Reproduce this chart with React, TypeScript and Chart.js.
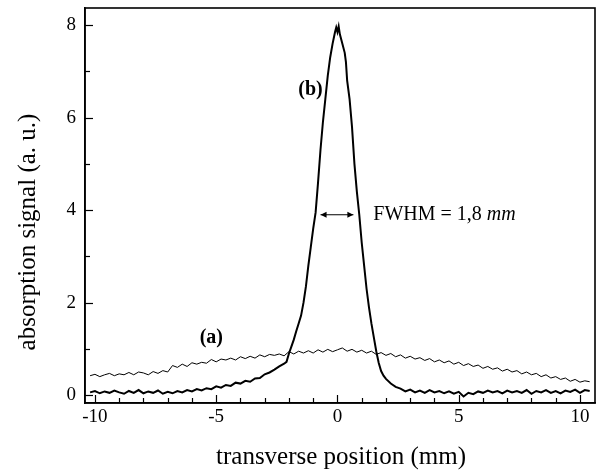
import React, { useEffect, useRef } from "react";
import { Chart, registerables } from "chart.js";

Chart.register(...registerables);

// Curve (a): broad thin trace
const xA = [
  -10.2, -10.0, -9.8, -9.6, -9.4, -9.2, -9.0, -8.8, -8.6, -8.4, -8.2, -8.0, -7.8, -7.6, -7.4, -7.2, -7.0,
  -6.8, -6.6, -6.4, -6.2, -6.0, -5.8, -5.6, -5.4, -5.2, -5.0, -4.8, -4.6, -4.4, -4.2, -4.0, -3.8, -3.6,
  -3.4, -3.2, -3.0, -2.8, -2.6, -2.4, -2.2, -2.0, -1.8, -1.6, -1.4, -1.2, -1.0, -0.8, -0.6, -0.4, -0.2,
  0.0, 0.2, 0.4, 0.6, 0.8, 1.0, 1.2, 1.4, 1.6, 1.8, 2.0, 2.2, 2.4, 2.6, 2.8, 3.0, 3.2, 3.4, 3.6, 3.8,
  4.0, 4.2, 4.4, 4.6, 4.8, 5.0, 5.2, 5.4, 5.6, 5.8, 6.0, 6.2, 6.4, 6.6, 6.8, 7.0, 7.2, 7.4, 7.6, 7.8,
  8.0, 8.2, 8.4, 8.6, 8.8, 9.0, 9.2, 9.4, 9.6, 9.8, 10.0, 10.2, 10.4,
];
const yA = [
  0.42, 0.45, 0.40, 0.44, 0.47, 0.42, 0.46, 0.44, 0.49, 0.44, 0.50, 0.48, 0.44, 0.51, 0.47, 0.53, 0.50,
  0.64, 0.60, 0.67, 0.62, 0.70, 0.67, 0.71, 0.69, 0.77, 0.72, 0.78, 0.76, 0.80, 0.76, 0.83, 0.79, 0.84,
  0.80, 0.87, 0.83, 0.88, 0.86, 0.89, 0.85, 0.94, 0.89, 0.95, 0.91, 0.96, 0.91, 0.98, 0.93, 0.99, 0.94,
  0.98, 1.02, 0.95, 0.99, 0.93, 0.97, 0.91, 0.95, 0.88, 0.92, 0.86, 0.90, 0.83, 0.87, 0.80, 0.84, 0.78,
  0.81, 0.75, 0.79, 0.72, 0.76, 0.70, 0.74, 0.67, 0.71, 0.64, 0.68, 0.62, 0.65, 0.58, 0.62, 0.56, 0.59,
  0.52, 0.56, 0.50, 0.53, 0.46, 0.50, 0.44, 0.47, 0.40, 0.44, 0.37, 0.40, 0.34, 0.37, 0.30, 0.34, 0.28,
  0.31, 0.29,
];

// Curve (b): narrow thick peak
const xB = [
  -10.2, -10.0, -9.8, -9.6, -9.4, -9.2, -9.0, -8.8, -8.6, -8.4, -8.2, -8.0, -7.8, -7.6, -7.4, -7.2, -7.0,
  -6.8, -6.6, -6.4, -6.2, -6.0, -5.8, -5.6, -5.4, -5.2, -5.0, -4.8, -4.6, -4.4, -4.2, -4.0, -3.8, -3.6,
  -3.4, -3.2, -3.0, -2.8, -2.6, -2.4, -2.2, -2.1, -2.0, -1.9, -1.8, -1.7, -1.6, -1.5, -1.4, -1.3, -1.2,
  -1.1, -1.0, -0.9, -0.8, -0.7, -0.6, -0.5, -0.4, -0.3, -0.2, -0.1, -0.05, 0.0, 0.05, 0.1, 0.2, 0.3,
  0.35, 0.4, 0.5, 0.6, 0.7, 0.8, 0.9, 1.0, 1.1, 1.2, 1.3, 1.4, 1.5, 1.6, 1.7, 1.8, 1.9, 2.0, 2.2, 2.4,
  2.6, 2.8, 3.0, 3.2, 3.4, 3.6, 3.8, 4.0, 4.2, 4.4, 4.6, 4.8, 5.0, 5.2, 5.4, 5.6, 5.8, 6.0, 6.2, 6.4,
  6.6, 6.8, 7.0, 7.2, 7.4, 7.6, 7.8, 8.0, 8.2, 8.4, 8.6, 8.8, 9.0, 9.2, 9.4, 9.6, 9.8, 10.0, 10.2, 10.4,
];
const yB = [
  0.06, 0.09, 0.04, 0.08, 0.05, 0.10, 0.06, 0.03, 0.09, 0.05, 0.11, 0.04, 0.08, 0.05, 0.10, 0.03, 0.07,
  0.04, 0.09, 0.06, 0.11, 0.08, 0.13, 0.10, 0.15, 0.13, 0.19, 0.16, 0.22, 0.20, 0.27, 0.25, 0.31, 0.29,
  0.36, 0.37, 0.45, 0.49, 0.55, 0.62, 0.68, 0.72, 0.90, 1.05, 1.20, 1.38, 1.55, 1.72, 2.00, 2.35, 2.80,
  3.20, 3.60, 3.95, 4.60, 5.30, 5.90, 6.40, 6.90, 7.30, 7.60, 7.85, 7.95, 7.85, 7.97, 7.80, 7.60, 7.40,
  7.20, 6.80, 6.40, 5.80, 5.00, 4.40, 3.90, 3.30, 2.80, 2.30, 1.90, 1.55, 1.25, 0.95, 0.70, 0.52, 0.42,
  0.35, 0.25, 0.18, 0.14, 0.08, 0.12, 0.06, 0.10, 0.05, 0.11, 0.06, 0.09, 0.04, 0.08, 0.03, 0.07, -0.03,
  0.05, 0.02, 0.08, 0.05, 0.10, 0.06, 0.09, 0.04, 0.10, 0.06, 0.09, 0.05, 0.11, 0.03, 0.09, 0.06, 0.11,
  0.05, 0.09, 0.04, 0.10, 0.07, 0.12, 0.05, 0.11, 0.09,
];

const xTickValues = [-10, -5, 0, 5, 10];
const yTickValues = [0, 2, 4, 6, 8];
const X_MIN = -10.41;
const X_MAX = 10.62;
const Y_MIN = -0.17;
const Y_MAX = 8.37;

const X_TITLE = "transverse position (mm)";
const Y_TITLE = "absorption signal (a. u.)";
const LABEL_A = "(a)";
const LABEL_B = "(b)";
const FWHM_TEXT = "FWHM = 1,8 ";
const FWHM_UNIT = "mm";
const FWHM_LEFT = -0.78;
const FWHM_RIGHT = 0.74;
const FWHM_LEVEL = 3.9;

const SERIF = '"Liberation Serif", "Times New Roman", serif';

const decorPlugin = {
  id: "decor",
  afterDraw(chart: any) {
    const { ctx, chartArea, scales } = chart;
    const xs = scales.x;
    const ys = scales.y;
    ctx.save();
    ctx.strokeStyle = "#000";
    ctx.fillStyle = "#000";
    // frame
    ctx.lineWidth = 1.6;
    ctx.strokeRect(chartArea.left, chartArea.top, chartArea.right - chartArea.left, chartArea.bottom - chartArea.top);
    // inward ticks
    ctx.lineWidth = 1.2;
    for (let v = -10; v <= 10; v += 1) {
      const px = Math.round(xs.getPixelForValue(v)) + 0.5;
      const len = v % 5 === 0 ? 8 : 5;
      ctx.beginPath();
      ctx.moveTo(px, chartArea.bottom);
      ctx.lineTo(px, chartArea.bottom - len);
      ctx.stroke();
    }
    for (let v = 0; v <= 8; v += 1) {
      const py = Math.round(ys.getPixelForValue(v)) + 0.5;
      const len = v % 2 === 0 ? 8 : 5;
      ctx.beginPath();
      ctx.moveTo(chartArea.left, py);
      ctx.lineTo(chartArea.left + len, py);
      ctx.stroke();
    }
    // axis titles
    ctx.font = `25px ${SERIF}`;
    ctx.textAlign = "center";
    ctx.textBaseline = "middle";
    ctx.fillText(X_TITLE, 341, 457);
    ctx.save();
    ctx.translate(28, 232);
    ctx.rotate(-Math.PI / 2);
    ctx.fillText(Y_TITLE, 0, 0);
    ctx.restore();
    // labels
    ctx.font = `bold 20px ${SERIF}`;
    ctx.fillText(LABEL_A, xs.getPixelForValue(-5.2), ys.getPixelForValue(1.23));
    ctx.fillText(LABEL_B, xs.getPixelForValue(-1.11), ys.getPixelForValue(6.6));
    // FWHM arrow
    const ay = ys.getPixelForValue(FWHM_LEVEL);
    const ax1 = xs.getPixelForValue(FWHM_LEFT) + 2;
    const ax2 = xs.getPixelForValue(FWHM_RIGHT) - 2;
    ctx.lineWidth = 1.2;
    ctx.beginPath();
    ctx.moveTo(ax1, ay);
    ctx.lineTo(ax2, ay);
    ctx.stroke();
    ctx.beginPath();
    ctx.moveTo(ax1, ay);
    ctx.lineTo(ax1 + 6, ay - 3);
    ctx.lineTo(ax1 + 6, ay + 3);
    ctx.closePath();
    ctx.fill();
    ctx.beginPath();
    ctx.moveTo(ax2, ay);
    ctx.lineTo(ax2 - 6, ay - 3);
    ctx.lineTo(ax2 - 6, ay + 3);
    ctx.closePath();
    ctx.fill();
    // FWHM text
    ctx.textAlign = "left";
    ctx.font = `20px ${SERIF}`;
    const tx = xs.getPixelForValue(1.48);
    ctx.fillText(FWHM_TEXT, tx, ay);
    const w = ctx.measureText(FWHM_TEXT).width;
    ctx.font = `italic 20px ${SERIF}`;
    ctx.fillText(FWHM_UNIT, tx + w, ay);
    ctx.restore();
  },
};

export default function App() {
  const ref = useRef<HTMLCanvasElement | null>(null);
  useEffect(() => {
    document.body.style.margin = "0";
    const canvas = ref.current;
    if (!canvas) return;
    const chart = new Chart(canvas, {
      type: "line",
      data: {
        datasets: [
          {
            label: "(a)",
            data: xA.map((x, i) => ({ x, y: yA[i] })),
            borderColor: "#000",
            borderWidth: 1,
            pointRadius: 0,
            tension: 0,
            fill: false,
          },
          {
            label: "(b)",
            data: xB.map((x, i) => ({ x, y: yB[i] })),
            borderColor: "#000",
            borderWidth: 2,
            pointRadius: 0,
            tension: 0,
            fill: false,
          },
        ],
      },
      options: {
        animation: false,
        responsive: false,
        maintainAspectRatio: false,
        layout: { padding: { top: 8, right: 2, left: 0, bottom: 0 } },
        plugins: { legend: { display: false }, tooltip: { enabled: false } },
        scales: {
          x: {
            type: "linear",
            min: X_MIN,
            max: X_MAX,
            afterFit: (s: any) => {
              s.height = 69;
              s.paddingLeft = 0;
              s.paddingRight = 0;
            },
            afterBuildTicks: (s: any) => {
              s.ticks = xTickValues.map((v) => ({ value: v }));
            },
            ticks: {
              color: "#000",
              font: { family: SERIF, size: 19 },
              padding: 3,
              maxRotation: 0,
              callback: (v: any) => String(v),
            },
            grid: { display: false, drawTicks: false },
            border: { display: true, color: "#000", width: 1.6 },
          },
          y: {
            type: "linear",
            min: Y_MIN,
            max: Y_MAX,
            afterFit: (s: any) => {
              s.width = 85;
              s.paddingTop = 0;
              s.paddingBottom = 0;
            },
            afterBuildTicks: (s: any) => {
              s.ticks = yTickValues.map((v) => ({ value: v }));
            },
            ticks: {
              color: "#000",
              font: { family: SERIF, size: 19 },
              padding: 9,
              callback: (v: any) => String(v),
            },
            grid: { display: false, drawTicks: false },
            border: { display: true, color: "#000", width: 1.6 },
          },
        },
      },
      plugins: [decorPlugin],
    });
    return () => chart.destroy();
  }, []);
  return <canvas ref={ref} width={597} height={472} style={{ display: "block" }} />;
}
